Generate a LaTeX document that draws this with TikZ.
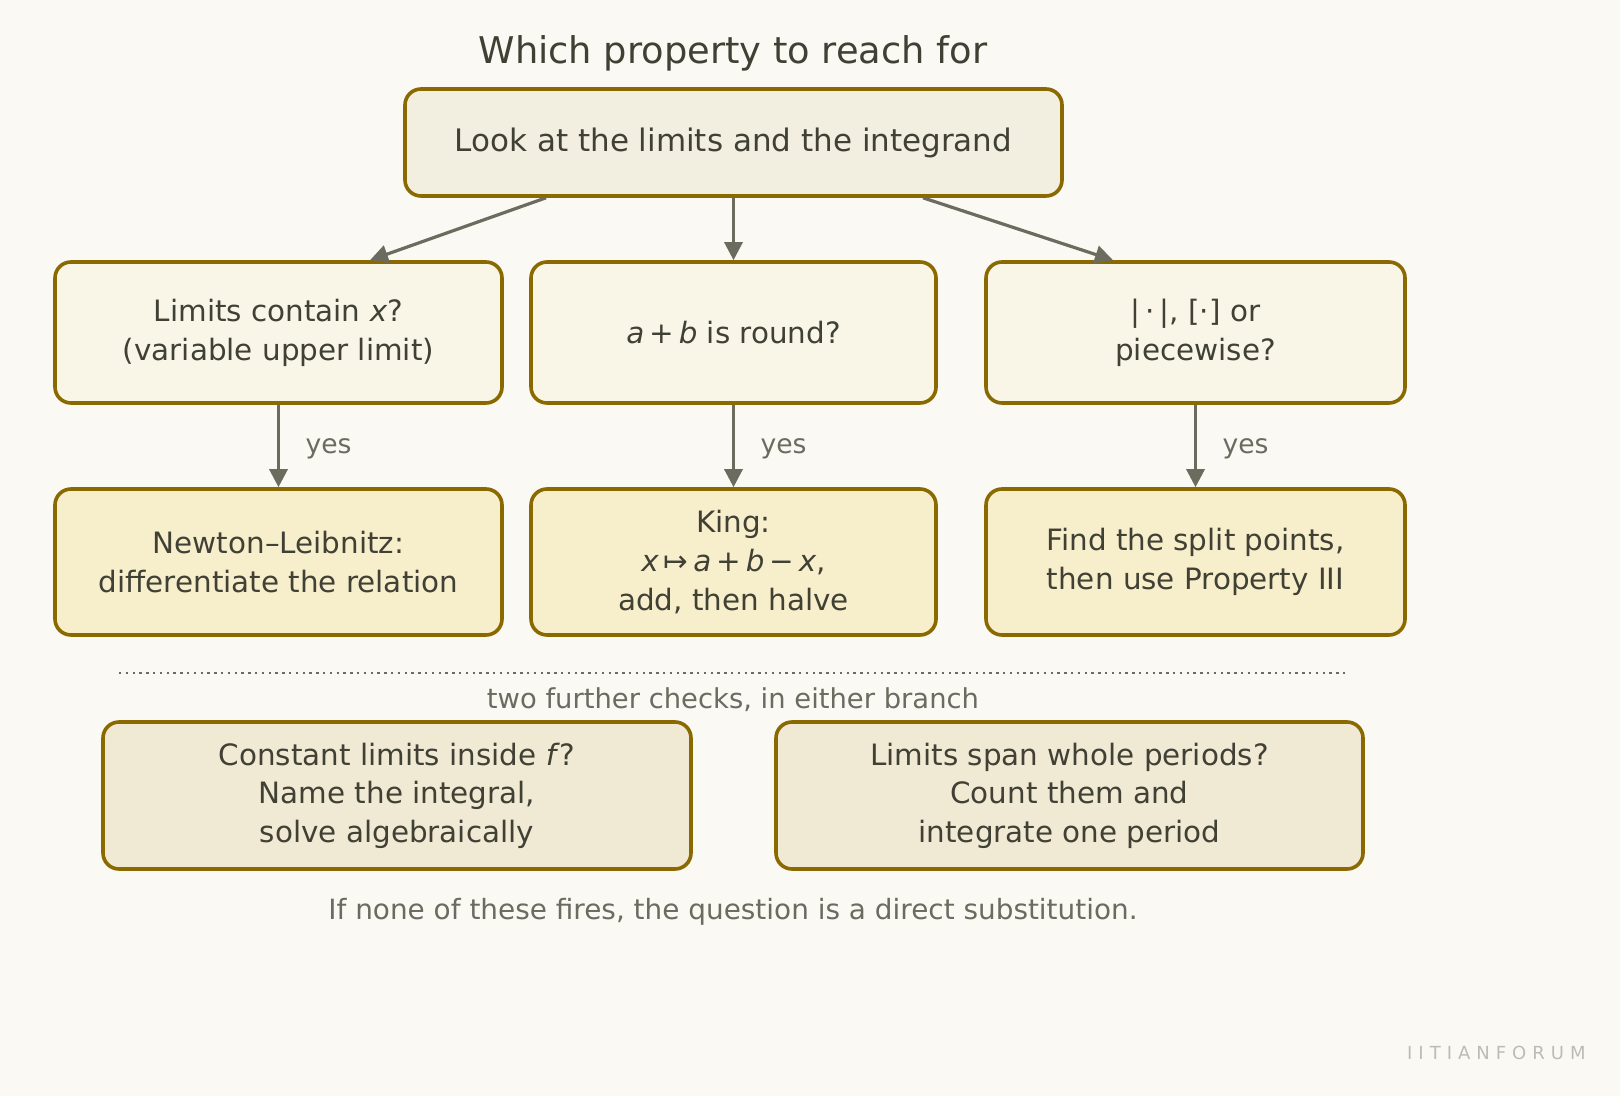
\documentclass[tikz,border=0pt]{standalone}
\usepackage{fontspec}
\setmainfont{DejaVu Sans}
\usetikzlibrary{arrows.meta,calc}
\definecolor{bg}{HTML}{FAF9F4}
\definecolor{edge}{HTML}{8A6A00}
\definecolor{ink}{HTML}{404035}
\definecolor{soft}{HTML}{6B6B60}
\definecolor{arr}{HTML}{6B6B5E}
\definecolor{fTop}{HTML}{F3EFE0}
\definecolor{fQ}{HTML}{F9F6E8}
\definecolor{fA}{HTML}{F7EECB}
\definecolor{fB}{HTML}{F0E9D4}
\definecolor{wm}{HTML}{BDBCB4}
\tikzset{
  box/.style={draw=edge, line width=1.8pt, rounded corners=8pt, text=ink, align=center, inner sep=0pt, font=\fontsize{14.7}{19.3}\selectfont},
  conn/.style={draw=arr, line width=1.6pt, -{Triangle[length=9pt,width=9pt]}},
  lbl/.style={text=soft, font=\fontsize{13.3}{16}\selectfont, anchor=west, inner sep=0pt},
}
\newcommand{\vr}[1]{\textit{#1}}
\begin{document}
\begin{tikzpicture}[x=0.5pt,y=-0.5pt]
\fill[bg] (0,0) rectangle (1620,1096);
\useasboundingbox (0,0) rectangle (1620,1096);
\node[text=ink, font=\fontsize{18.4}{22}\selectfont] (title) at (733,53) {Which property to reach for};
\node[box, fill=fTop, minimum width=328.5pt, minimum height=53.5pt, font=\fontsize{15.5}{19}\selectfont] (top) at (733.5,142.5) {Look at the limits and the integrand};
\node[box, fill=fQ, minimum width=223.5pt, minimum height=70.5pt, font=\fontsize{14.7}{19.6}\selectfont] (q1) at (278.5,332.5) {Limits contain \vr{x}?\\(variable upper limit)};
\node[box, fill=fQ, minimum width=202.5pt, minimum height=70.5pt] (q2) at (733.5,332.5) {\vr{a}\,+\,\vr{b} is round?};
\node[box, fill=fQ, minimum width=209.5pt, minimum height=70.5pt, font=\fontsize{14.7}{19.6}\selectfont] (q3) at (1195.5,332.5) {|\,·\,|, [·] or\\piecewise?};
\node[box, fill=fA, minimum width=223.5pt, minimum height=73pt] (a1) at (278.5,562) {Newton–Leibnitz:\\differentiate the relation};
\node[box, fill=fA, minimum width=202.5pt, minimum height=73pt] (a2) at (733.5,562) {King:\\\vr{x}\,↦\,\vr{a}\,+\,\vr{b}\,−\,\vr{x},\\add, then halve};
\node[box, fill=fA, minimum width=209.5pt, minimum height=73pt] (a3) at (1195.5,562) {Find the split points,\\then use Property III};
\draw[conn] ($(top.south)+(-187.5,0)$) -- ($(q1.north)+(91.5,0)$);
\draw[conn] (top.south) -- (q2.north);
\draw[conn] ($(top.south)+(189.5,0)$) -- ($(q3.north)+(-82.5,0)$);
\draw[conn] (q1.south) -- (a1.north) node[lbl, midway, xshift=12.7pt, yshift=-1.5pt] (y1) {yes};
\draw[conn] (q2.south) -- (a2.north) node[lbl, midway, xshift=12.7pt, yshift=-1.5pt] (y2) {yes};
\draw[conn] (q3.south) -- (a3.north) node[lbl, midway, xshift=12.7pt, yshift=-1.5pt] (y3) {yes};
\coordinate (dl) at (119,673);
\coordinate (dr) at (1345,673);
\draw[soft, line width=1.2pt, dash pattern=on 1.2pt off 2.2pt] (dl) -- (dr);
\node[text=soft, font=\fontsize{13.7}{16}\selectfont] (further) at (733,700) {two further checks, in either branch};
\node[box, fill=fB, minimum width=294pt, minimum height=73.5pt] (b1) at (397,795.5) {Constant limits inside \vr{f}?\\Name the integral,\\solve algebraically};
\node[box, fill=fB, minimum width=293.5pt, minimum height=73.5pt] (b2) at (1069.5,795.5) {Limits span whole periods?\\Count them and\\integrate one period};
\node[text=soft, font=\fontsize{13.95}{17}\selectfont] (foot) at (733,912) {If none of these fires, the question is a direct substitution.};
\node[text=wm, font=\fontsize{9}{11}\selectfont, anchor=east, inner sep=0pt] (mark) at (1586,1053) {I\,\,I\,\,T\,\,I\,\,A\,\,N\,\,F\,\,O\,\,R\,\,U\,\,M};
\end{tikzpicture}
\end{document}
